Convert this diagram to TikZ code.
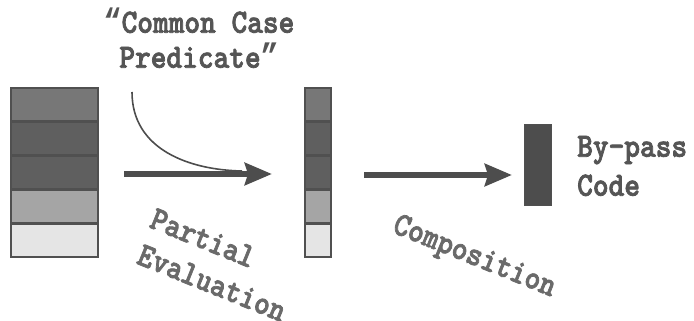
\documentclass[tikz,border=0pt]{standalone}
\usepackage{fontspec}
\newfontfamily\typew[FakeBold=2.2,FakeStretch=0.88]{lmmonolt10-bold.otf}
\newfontfamily\quotefont[FakeStretch=0.88]{Liberation Mono}
\newcommand{\myoq}{{\quotefont\bfseries “}}
\newcommand{\mycq}{{\quotefont\bfseries ”}}
\usetikzlibrary{arrows.meta}
\definecolor{cA}{HTML}{777777}
\definecolor{cB}{HTML}{5F5F5F}
\definecolor{cC}{HTML}{A5A5A5}
\definecolor{cD}{HTML}{E5E5E5}
\definecolor{cE}{HTML}{4D4D4D}
\definecolor{txt}{HTML}{555555}
\definecolor{txtb}{HTML}{6A6A6A}
\definecolor{edge}{HTML}{505050}
\tikzset{
  cell/.style={draw=edge, line width=1.2pt},
  bigarrow/.style={draw=cE, fill=cE, line width=6pt, -{Stealth[length=27pt,width=22pt,inset=3pt]}},
  thin/.style={draw=cE, line width=1.6pt},
  lbl/.style={font=\typew\fontsize{34}{35}\selectfont, text=txt, align=center, inner sep=0pt},
  rlbl/.style={font=\typew\fontsize{34}{35}\selectfont, text=txtb, inner sep=0pt, rotate=-22}
}
\begin{document}
\begin{tikzpicture}[x=1pt,y=-1pt]
\useasboundingbox (0,0) rectangle (694,321);
% left stack
\draw[cell, fill=cA] (11,88) rectangle (98,121);
\draw[cell, fill=cB] (11,122) rectangle (98,155);
\draw[cell, fill=cB] (11,156) rectangle (98,189);
\draw[cell, fill=cC] (11,190) rectangle (98,223);
\draw[cell, fill=cD] (11,224) rectangle (98,257);
% middle stack
\draw[cell, fill=cA] (305,88) rectangle (331,121);
\draw[cell, fill=cB] (305,122) rectangle (331,155);
\draw[cell, fill=cB] (305,156) rectangle (331,189);
\draw[cell, fill=cC] (305,190) rectangle (331,223);
\draw[cell, fill=cD] (305,224) rectangle (331,257);
% bypass block
\node[draw=edge, fill=cE, minimum width=27pt, minimum height=81pt, inner sep=0pt, anchor=north west] (byp) at (524,124) {};
% arrows
\coordinate (a1s) at (124,174);
\coordinate (a1e) at (272,174);
\coordinate (a2s) at (364,175);
\coordinate (a2e) at (512,175);
\draw[bigarrow] (a1s) -- (a1e);
\draw[bigarrow] (a2s) -- (a2e);
\coordinate (cs) at (132,92);
\coordinate (ce) at (242,171);
\draw[thin] (cs) .. controls (132,150) and (190,170) .. (ce);
% labels
\node[lbl] (pred) at (199,38) {\myoq Common Case\\Predicate\mycq};
\node[lbl, align=left, anchor=west] (bp) at (577,166) {By-pass\\[4pt]Code};
\node[rlbl] (pa) at (203,238) {Partial};
\node[rlbl] (ev) at (212,283) {Evaluation};
\node[rlbl] (co) at (474,258) {Composition};
\end{tikzpicture}
\end{document}
